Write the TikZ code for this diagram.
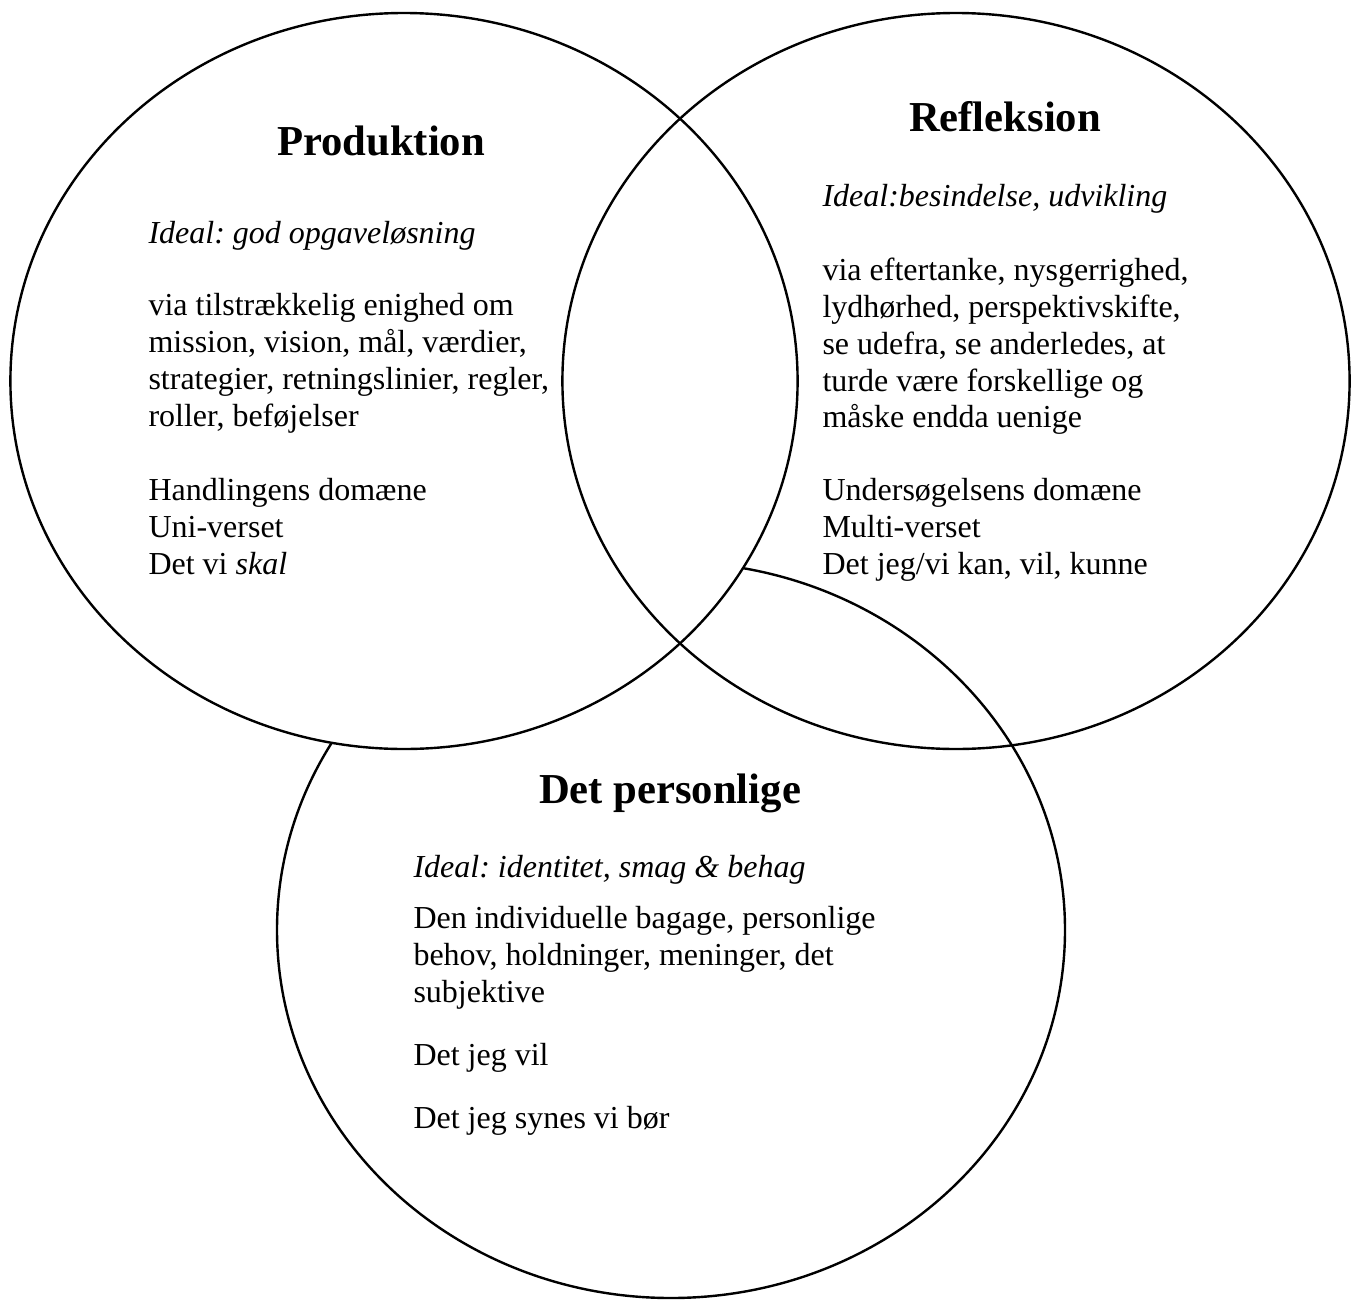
\documentclass[tikz,border=0pt]{standalone}
\usepackage{fontspec}
\setmainfont{Liberation Serif}
\frenchspacing
\begin{document}
\begin{tikzpicture}[x=0.375pt,y=-0.375pt,
  ring/.style={line width=0.9pt},
  ttl/.style={font=\fontsize{16}{18}\selectfont\bfseries, anchor=base, inner sep=0pt},
  txt/.style={font=\fontsize{12}{14}\selectfont\frenchspacing, anchor=base west, inner sep=0pt},
  itx/.style={font=\fontsize{12}{14}\selectfont\itshape\frenchspacing, anchor=base west, inner sep=0pt}]
\useasboundingbox (0,0) rectangle (1356,1300);
\fill[white] (0,0) rectangle (1356,1300);
% circles
\draw[ring] (671,930) ellipse [x radius=147.75pt, y radius=138pt];
\draw[ring, fill=white] (404,381) ellipse [x radius=147.6pt, y radius=138pt];
\draw[ring] (956,381) ellipse [x radius=147.6pt, y radius=138pt];
% Produktion
\node[ttl] (pt) at (381,155) {Produktion};
\node[itx] (p1) at (148,243) {Ideal: god opgaveløsning};
\node[txt] (p2) at (148,315) {via tilstrækkelig enighed om};
\node[txt] (p3) at (148,352) {mission, vision, mål, værdier,};
\node[txt] (p4) at (148,389) {strategier, retningslinier, regler,};
\node[txt] (p5) at (148,426) {roller, beføjelser};
\node[txt] (p6) at (148,500) {Handlingens domæne};
\node[txt] (p7) at (148,537) {Uni-verset};
\node[txt] (p8) at (148,574) {Det vi \textit{skal}};
% Refleksion
\node[ttl] (rt) at (1005,131) {Refleksion};
\node[itx] (r1) at (822,206) {Ideal:besindelse, udvikling};
\node[txt] (r2) at (822,280) {via eftertanke, nysgerrighed,};
\node[txt] (r3) at (822,317) {lydhørhed, perspektivskifte,};
\node[txt] (r4) at (822,354) {se udefra, se anderledes, at};
\node[txt] (r5) at (822,391) {turde være forskellige og};
\node[txt] (r6) at (822,427) {måske endda uenige};
\node[txt] (r7) at (822,500) {Undersøgelsens domæne};
\node[txt] (r8) at (822,537) {Multi-verset};
\node[txt] (r9) at (822,574) {Det jeg/vi kan, vil, kunne};
% Det personlige
\node[ttl] (dt) at (670,803) {Det personlige};
\node[itx] (d1) at (413,877) {Ideal: identitet, smag \& behag};
\node[txt] (d2) at (413,928) {Den individuelle bagage, personlige};
\node[txt] (d3) at (413,965) {behov, holdninger, meninger, det};
\node[txt] (d4) at (413,1002) {subjektive};
\node[txt] (d5) at (413,1065) {Det jeg vil};
\node[txt] (d6) at (413,1128) {Det jeg synes vi bør};
\end{tikzpicture}
\end{document}
